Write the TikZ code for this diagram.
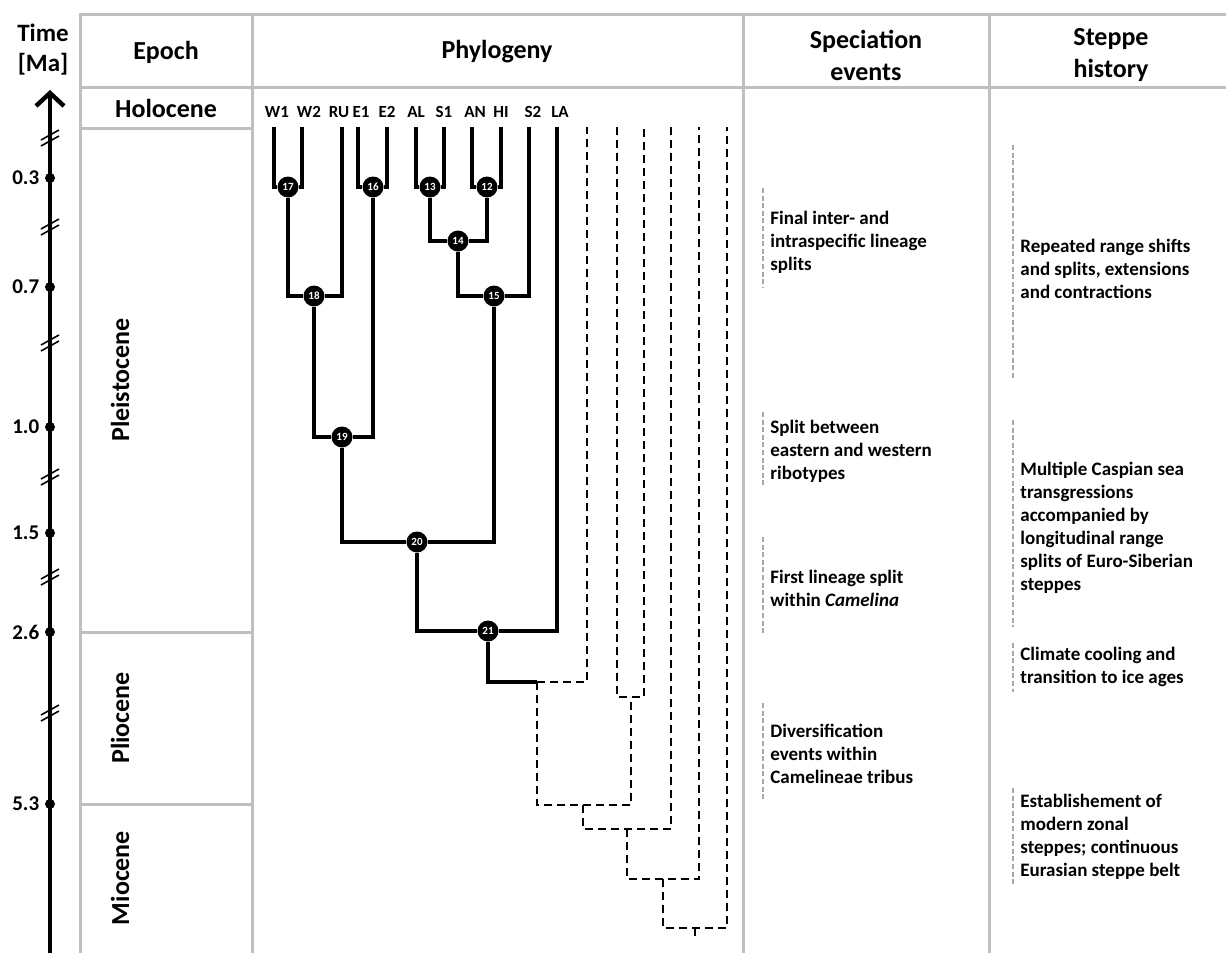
\documentclass[tikz,border=0pt]{standalone}
\usepackage{fontspec}
\setmainfont{Carlito}
\usepackage{tikz}
\definecolor{gridGray}{HTML}{BFBFBF}
\definecolor{barGray}{HTML}{A6A6A6}
\usetikzlibrary{positioning,arrows.meta}

\begin{document}
\begin{tikzpicture}[
    x=0.5pt, y=-0.5pt,
    tablerule/.style={draw=gridGray, line width=1.5pt},
    headtxt/.style={font=\fontsize{13}{16}\selectfont\bfseries, align=center, inner sep=0pt},
    leaflab/.style={font=\fontsize{8.5}{9}\selectfont\bfseries, inner sep=0pt},
    splitdot/.style={circle, fill=black, inner sep=0pt, minimum size=10.5pt,
                     text=white, font=\fontsize{5.5}{6}\selectfont\bfseries},
    branch/.style={line width=1.9pt},
    ghost/.style={line width=1.4pt, dash pattern=on 4pt off 2.5pt},
    note/.style={anchor=west, align=left, inner sep=0pt,
                 font=\fontsize{9.5}{11.5}\selectfont\bfseries},
    notebar/.style={draw=barGray, line width=1pt, dash pattern=on 2.5pt off 1.3pt},
    axisdot/.style={circle, fill=black, inner sep=0pt, minimum size=5pt},
    axislab/.style={font=\fontsize{10.5}{12}\selectfont\bfseries, inner sep=0pt}
  ]
  \useasboundingbox (0,0) rectangle (1226,953);

  % table
  \draw[tablerule] (80,953) -- (80,14) -- (1226,14);
  \draw[tablerule] (80,87) -- (1226,87);
  \foreach \cx in {252,743,989} \draw[tablerule] (\cx,14) -- (\cx,953);
  \foreach \cy in {128,632,804} \draw[tablerule] (80,\cy) -- (252,\cy);

  % headers
  \node[headtxt, font=\fontsize{12.5}{15}\selectfont\bfseries] (timeh) at (43,50) {Time\\{}[Ma]};
  \node[headtxt] (epochh) at (166,52) {Epoch};
  \node[headtxt] (phyloh) at (497,52) {Phylogeny};
  \node[headtxt] (speh) at (866,55) {Speciation\\events};
  \node[headtxt] (steh) at (1111,55) {Steppe\\history};

  % epochs
  \node[headtxt] (holo) at (166,108) {Holocene};
  \node[headtxt, rotate=90] (pleis) at (120,380) {Pleistocene};
  \node[headtxt, rotate=90] (plio) at (120,718) {Pliocene};
  \node[headtxt, rotate=90] (mio) at (120,878) {Miocene};

  % time axis
  \coordinate (axbot) at (50,953);
  \coordinate (axtop) at (50,90);
  \draw[line width=2pt, -{Straight Barb[length=6.5pt, width=14pt, line width=2.2pt]}] (axbot) -- (axtop);
  \foreach \nm/\yy/\lab in {t03/178/0.3, t07/287/0.7, t10/427/1.0, t15/533/1.5, t26/632/2.6, t53/804/5.3} {
    \node[axisdot] (\nm) at (50,\yy) {};
    \node[axislab, left=2.5pt of \nm] {\lab};
  }
  \foreach \yy in {138,227,343,477,577,713} {
    \draw[line width=0.8pt] (41,\yy+2) -- (59,\yy-8);
    \draw[line width=0.8pt] (41,\yy+8) -- (59,\yy-2);
  }

  % leaves
  \foreach \nm/\xx/\lx in {W1/274/277, W2/302/309, RU/342/339, E1/358/361, E2/387/387, AL/416/416,
                          S1/444/444, AN/472/475, HI/501/501, S2/529/533, LA/557/560} {
    \coordinate (\nm) at (\xx,127);
    \node[leaflab] (lab\nm) at (\lx,112) {\nm};
  }
  \foreach \nm/\xx in {D1/587, D2/617, D3/644, D4/671, D5/699, D6/727}
    \coordinate (\nm) at (\xx,127);

  % splits
  \node[splitdot] (n17) at (288,187) {17};
  \node[splitdot] (n16) at (373,187) {16};
  \node[splitdot] (n13) at (430,187) {13};
  \node[splitdot] (n12) at (487,187) {12};
  \node[splitdot] (n14) at (458,241) {14};
  \node[splitdot] (n18) at (314,296) {18};
  \node[splitdot] (n15) at (494,296) {15};
  \node[splitdot] (n19) at (342,437) {19};
  \node[splitdot] (n20) at (417,542) {20};
  \node[splitdot] (n21) at (488,631) {21};

  \draw[branch] (W1) |- (n17) -| (W2);
  \draw[branch] (E1) |- (n16) -| (E2);
  \draw[branch] (AL) |- (n13) -| (S1);
  \draw[branch] (AN) |- (n12) -| (HI);
  \draw[branch] (n13) |- (n14) -| (n12);
  \draw[branch] (n17) |- (n18) -| (RU);
  \draw[branch] (n14) |- (n15) -| (S2);
  \draw[branch] (n18) |- (n19) -| (n16);
  \draw[branch] (n19) |- (n20) -| (n15);
  \draw[branch] (n20) |- (n21) -| (LA);

  % older lineages
  \coordinate (b1) at (537,682);
  \coordinate (b2) at (631,697);
  \coordinate (b3) at (583,805);
  \coordinate (b4) at (627,829);
  \coordinate (b5) at (663,879);
  \coordinate (b6) at (695,928);
  \coordinate (root) at (695,936);
  \draw[branch] (n21) |- (b1);
  \draw[ghost] (b1) -| (D1);
  \draw[ghost] (D2) |- (b2) -| (D3);
  \draw[ghost] (b1) |- (b3) -| (b2);
  \draw[ghost] (b3) |- (b4) -| (D4);
  \draw[ghost] (b4) |- (b5) -| (D5);
  \draw[ghost] (b5) |- (b6) -| (D6);
  \draw[ghost] (b6) -- (root);

  % speciation events
  \draw[notebar] (763,188) -- (763,287);
  \draw[notebar] (763,412) -- (763,487);
  \draw[notebar] (763,537) -- (763,635);
  \draw[notebar] (763,703) -- (763,800);
  \node[note] (sp1) at (770,242) {Final inter- and\\intraspecific lineage\\splits};
  \node[note] (sp2) at (770,451) {Split between\\eastern and western\\ribotypes};
  \node[note] (sp3) at (770,588) {First lineage split\\within \textit{Camelina}};
  \node[note] (sp4) at (770,754) {Diversification\\events within\\Camelineae tribus};

  % steppe history
  \draw[notebar] (1013,145) -- (1013,380);
  \draw[notebar] (1013,420) -- (1013,627);
  \draw[notebar] (1013,643) -- (1013,692);
  \draw[notebar] (1013,788) -- (1013,885);
  \node[note] (st1) at (1020,269) {Repeated range shifts\\and splits, extensions\\and contractions};
  \node[note] (st2) at (1020,528) {Multiple Caspian sea\\transgressions\\accompanied by\\longitudinal range\\splits of Euro-Siberian\\steppes};
  \node[note] (st3) at (1020,667) {Climate cooling and\\transition to ice ages};
  \node[note] (st4) at (1020,837) {Establishement of\\modern zonal\\steppes; continuous\\Eurasian steppe belt};
\end{tikzpicture}
\end{document}
